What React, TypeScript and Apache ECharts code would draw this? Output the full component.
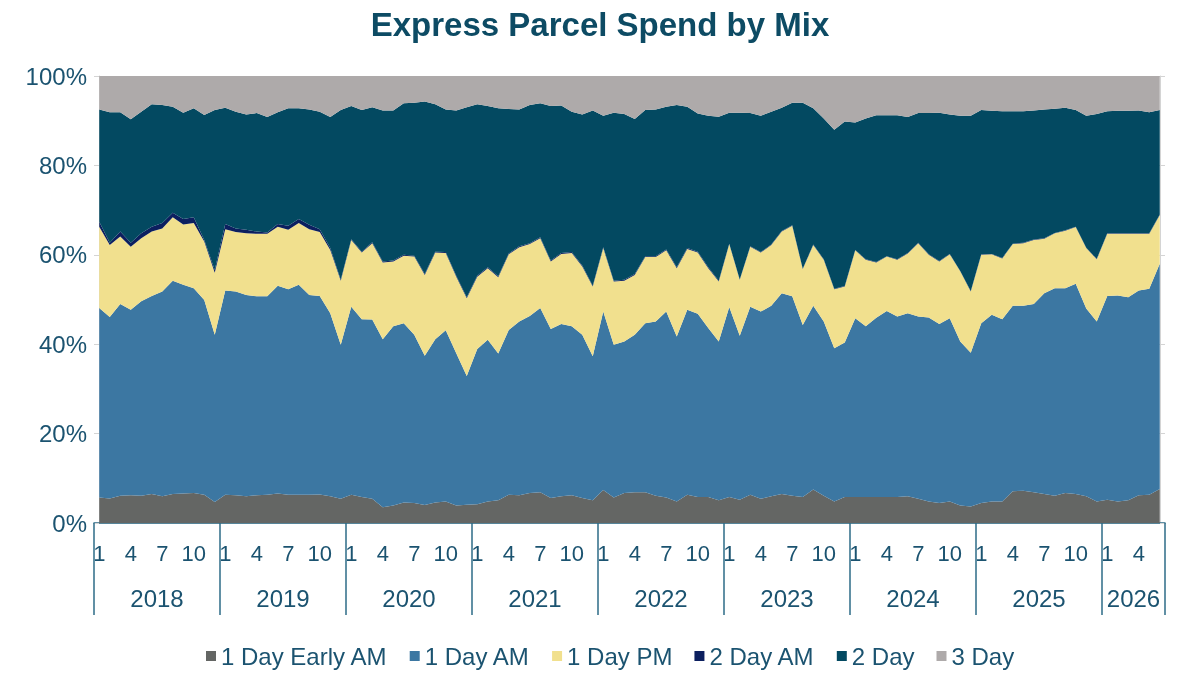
import React, { useEffect, useRef } from "react";
import * as echarts from "echarts";

const title = "Express Parcel Spend by Mix";
const years = [2018, 2019, 2020, 2021, 2022, 2023, 2024, 2025, 2026];
const monthsInYear = [12, 12, 12, 12, 12, 12, 12, 12, 6];
const shownMonths = [1, 4, 7, 10];
const yTickMax = 100;
const yTickStep = 20;

const seriesNames = ["1 Day Early AM", "1 Day AM", "1 Day PM", "2 Day AM", "2 Day", "3 Day"];
const seriesColors = ["#646664", "#3c77a2", "#f1e08e", "#0c1f5f", "#034961", "#aeaaaa"];

const earlyAM = [
  5.7, 5.5, 6.1, 6.2, 6.1, 6.5, 6.0, 6.5, 6.6, 6.7, 6.3, 4.7,
  6.3, 6.2, 6.0, 6.2, 6.3, 6.6, 6.3, 6.3, 6.3, 6.4, 6.0, 5.4,
  6.3, 5.8, 5.4, 3.5, 3.9, 4.6, 4.5, 4.0, 4.6, 4.8, 3.9, 4.1,
  4.2, 4.8, 5.1, 6.3, 6.2, 6.7, 6.9, 5.6, 6.0, 6.2, 5.6, 5.1,
  7.4, 5.7, 6.7, 6.9, 6.9, 6.1, 5.7, 4.8, 6.3, 5.8, 5.8, 5.1,
  5.8, 5.2, 6.3, 5.4, 6.0, 6.5, 6.1, 5.8, 7.5, 6.1, 4.8, 5.8,
  5.8, 5.8, 5.8, 5.8, 5.8, 6.0, 5.4, 4.8, 4.5, 4.8, 3.9, 3.7,
  4.5, 4.8, 4.8, 7.1, 7.2, 6.9, 6.5, 6.1, 6.7, 6.5, 6.0, 4.8,
  5.2, 4.8, 5.1, 6.2, 6.3, 7.6,
];
const dayAM = [
  42.4, 40.6, 42.9, 41.5, 43.5, 44.3, 45.8, 47.7, 46.7, 45.8, 43.6, 37.4,
  45.7, 45.6, 45.0, 44.5, 44.4, 46.5, 46.0, 47.0, 44.7, 44.4, 40.9, 34.5,
  42.1, 39.8, 40.1, 37.6, 40.1, 40.1, 37.6, 33.4, 36.5, 38.3, 34.1, 28.8,
  34.7, 36.2, 32.8, 36.9, 38.9, 39.6, 41.2, 37.8, 38.5, 37.8, 36.5, 32.2,
  39.9, 34.2, 33.9, 35.2, 37.8, 39.0, 41.6, 36.9, 41.4, 41.0, 37.8, 35.5,
  42.5, 36.7, 42.1, 41.9, 42.6, 44.9, 44.6, 38.5, 41.1, 39.0, 34.3, 34.6,
  40.0, 38.2, 40.1, 41.6, 40.4, 40.9, 40.8, 41.2, 40.0, 41.0, 36.7, 34.4,
  40.2, 41.8, 40.8, 41.5, 41.4, 42.1, 44.9, 46.4, 45.8, 47.0, 42.0, 40.3,
  45.6, 46.1, 45.4, 45.8, 46.1, 50.4,
];
const dayPM = [
  18.2, 16.1, 15.1, 14.1, 14.1, 14.4, 14.1, 14.2, 13.5, 14.6, 13.1, 13.9,
  13.7, 13.3, 13.8, 14.0, 14.0, 13.2, 13.3, 13.8, 14.7, 14.3, 14.2, 14.3,
  14.9, 14.9, 17.1, 17.2, 14.5, 15.1, 17.5, 18.1, 19.4, 17.3, 17.1, 17.4,
  16.2, 16.0, 17.1, 16.9, 16.6, 16.1, 15.6, 15.1, 15.7, 16.4, 15.3, 15.6,
  14.2, 14.1, 13.6, 13.4, 14.8, 14.4, 13.7, 15.3, 13.6, 13.7, 13.4, 13.4,
  14.1, 12.5, 13.4, 13.2, 13.6, 13.8, 15.8, 12.5, 13.6, 13.8, 13.2, 12.5,
  15.2, 14.9, 12.4, 12.2, 12.7, 13.4, 16.4, 14.0, 14.0, 14.3, 15.7, 13.7,
  15.3, 13.5, 13.6, 13.8, 14.0, 14.3, 12.2, 12.3, 12.9, 12.7, 13.5, 13.9,
  13.9, 13.8, 14.2, 12.7, 12.3, 10.9,
];
const twoDayAM = [
  1.1, 0.5, 1.1, 0.9, 1.1, 1.1, 1.2, 1.0, 1.2, 1.3, 0.3, 0.6,
  1.2, 0.8, 0.8, 0.5, 0.3, 0.6, 0.9, 0.9, 1.0, 0.6, 0.4, 0.2,
  0.2, 0.2, 0.2, 0.2, 0.2, 0.2, 0.2, 0.2, 0.2, 0.2, 0.2, 0.2,
  0.2, 0.2, 0.2, 0.2, 0.2, 0.2, 0.2, 0.2, 0.2, 0.2, 0.2, 0.2,
  0.2, 0.2, 0.2, 0.2, 0.2, 0.2, 0.2, 0.2, 0.2, 0.2, 0.2, 0.2,
  0.1, 0.1, 0.1, 0.1, 0.1, 0.1, 0.1, 0.1, 0.1, 0.1, 0.1, 0.1,
  0.1, 0.1, 0.1, 0.1, 0.1, 0.1, 0.1, 0.1, 0.1, 0.1, 0.1, 0.1,
  0.1, 0.1, 0.1, 0.1, 0.1, 0.1, 0.1, 0.1, 0.1, 0.1, 0.1, 0.1,
  0.1, 0.1, 0.1, 0.1, 0.1, 0.1,
];
const twoDay = [
  25.1, 29.2, 26.7, 27.6, 27.2, 27.4, 26.4, 23.7, 23.8, 24.4, 28.0, 35.8,
  26.0, 26.1, 25.8, 26.5, 25.8, 25.0, 26.3, 24.8, 25.8, 26.3, 29.3, 38.0,
  29.8, 31.7, 30.2, 33.8, 33.6, 33.9, 34.2, 38.6, 33.0, 31.9, 37.0, 42.5,
  38.4, 36.1, 37.6, 32.3, 30.6, 30.9, 30.0, 34.6, 33.0, 31.4, 33.8, 39.2,
  29.4, 37.6, 37.1, 34.7, 32.7, 32.8, 31.9, 36.3, 31.6, 30.9, 33.9, 36.7,
  29.3, 37.3, 29.8, 30.5, 29.7, 27.6, 27.4, 37.1, 30.5, 31.5, 35.6, 36.8,
  28.5, 31.5, 32.8, 31.5, 32.2, 30.4, 29.0, 31.6, 33.2, 31.2, 34.7, 39.2,
  32.3, 32.0, 32.8, 29.6, 29.4, 28.9, 28.8, 27.8, 27.4, 26.1, 29.5, 32.4,
  27.3, 27.4, 27.4, 27.5, 27.1, 23.4,
];
const threeDay = [
  7.5, 8.1, 8.1, 9.7, 8.0, 6.3, 6.5, 6.9, 8.2, 7.2, 8.7, 7.6,
  7.1, 8.0, 8.6, 8.3, 9.2, 8.1, 7.2, 7.2, 7.5, 8.0, 9.2, 7.6,
  6.7, 7.6, 7.0, 7.7, 7.7, 6.1, 6.0, 5.7, 6.3, 7.5, 7.7, 7.0,
  6.3, 6.7, 7.2, 7.4, 7.5, 6.5, 6.1, 6.7, 6.6, 8.0, 8.6, 7.7,
  8.9, 8.2, 8.5, 9.6, 7.6, 7.5, 6.9, 6.5, 6.9, 8.4, 8.9, 9.1,
  8.2, 8.2, 8.3, 8.9, 8.0, 7.1, 6.0, 6.0, 7.2, 9.5, 12.0, 10.2,
  10.4, 9.5, 8.8, 8.8, 8.8, 9.2, 8.3, 8.3, 8.2, 8.6, 8.9, 8.9,
  7.6, 7.8, 7.9, 7.9, 7.9, 7.7, 7.5, 7.3, 7.1, 7.6, 8.9, 8.5,
  7.9, 7.8, 7.8, 7.7, 8.1, 7.6,
];

const seriesValues = [earlyAM, dayAM, dayPM, twoDayAM, twoDay, threeDay];

const TEXT = "#1b5370";
const AXIS = "#2c6b87";
const LIGHT = "#d4d4d4";
const FONT = "Liberation Sans, Arial, sans-serif";

export default function App() {
  const ref = useRef<HTMLDivElement>(null);

  useEffect(() => {
    if (!ref.current) return;
    const chart = echarts.init(ref.current, null, { renderer: "svg" });

    const categories: string[] = [];
    const yearCenters: number[] = [];
    let start = 0;
    years.forEach((y, yi) => {
      const n = monthsInYear[yi];
      for (let m = 1; m <= n; m++) categories.push(`${y}-${m}`);
      yearCenters.push(start + n / 2);
      start += n;
    });
    const total = start;
    const monthOf = (v: string) => Number(String(v).split("-")[1]);

    chart.setOption({
      animation: false,
      title: {
        text: title,
        left: "center",
        top: 3,
        textStyle: { fontFamily: FONT, fontSize: 33, fontWeight: "bold", color: "#0d4b64" },
      },
      legend: {
        bottom: 2,
        left: 201,
        icon: "rect",
        itemWidth: 10,
        itemHeight: 10,
        itemGap: 22,
        data: seriesNames,
        textStyle: { fontFamily: FONT, fontSize: 24, color: TEXT },
      },
      grid: { left: 94, right: 35, top: 76, bottom: 152, containLabel: false },
      xAxis: [
        {
          type: "category",
          data: categories,
          boundaryGap: true,
          axisLine: { show: true, lineStyle: { color: AXIS, width: 1.5 } },
          axisTick: {
            show: true,
            interval: (index: number) => index % 12 === 0,
            length: 92,
            lineStyle: { color: AXIS, width: 1.5 },
          },
          axisLabel: {
            interval: (_i: number, v: string) => shownMonths.includes(monthOf(v)),
            formatter: (v: string) => String(monthOf(v)),
            fontFamily: FONT,
            fontSize: 22,
            color: TEXT,
            margin: 19,
          },
          splitLine: { show: false },
        },
        {
          type: "value",
          position: "bottom",
          min: 0,
          max: total,
          axisLine: { show: false },
          axisTick: { show: false },
          splitLine: { show: false },
          axisLabel: {
            customValues: yearCenters,
            formatter: (v: number) => {
              const idx = yearCenters.findIndex((c) => Math.abs(c - v) < 0.01);
              return idx >= 0 ? String(years[idx]) : "";
            },
            fontFamily: FONT,
            fontSize: 24,
            color: TEXT,
            margin: 63,
          },
        },
      ],
      yAxis: [
        {
          type: "value",
          min: 0,
          max: yTickMax,
          interval: yTickStep,
          offset: -5,
          axisLine: { show: true, lineStyle: { color: LIGHT, width: 1 } },
          axisTick: { show: true, length: 5, lineStyle: { color: LIGHT } },
          splitLine: { show: true, lineStyle: { color: LIGHT, width: 1 } },
          axisLabel: {
            formatter: "{value}%",
            fontFamily: FONT,
            fontSize: 24,
            color: TEXT,
            margin: 12,
          },
        },
        {
          type: "value",
          position: "right",
          min: 0,
          max: yTickMax,
          interval: yTickStep,
          offset: -5,
          axisLine: { show: true, lineStyle: { color: LIGHT, width: 1 } },
          axisTick: { show: true, length: 5, lineStyle: { color: LIGHT } },
          splitLine: { show: false },
          axisLabel: { show: false },
        },
      ],
      series: seriesNames.map((name, i) => ({
        name,
        type: "line",
        stack: "mix",
        xAxisIndex: 0,
        yAxisIndex: 0,
        data: seriesValues[i],
        showSymbol: false,
        symbol: "none",
        lineStyle: { width: 0 },
        itemStyle: { color: seriesColors[i] },
        areaStyle: { color: seriesColors[i], opacity: 1 },
        emphasis: { disabled: true },
      })),
    });

    return () => chart.dispose();
  }, []);

  return <div ref={ref} style={{ position: "fixed", left: 0, top: 0, width: 1200, height: 675 }} />;
}
